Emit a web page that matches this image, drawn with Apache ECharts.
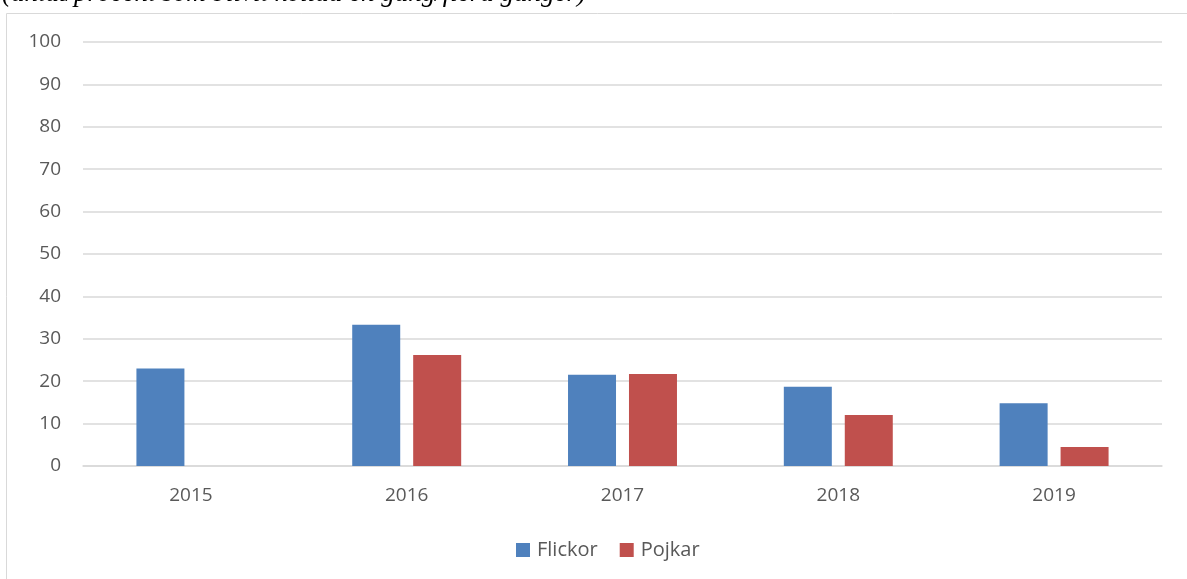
<!DOCTYPE html>
<html>
<head>
<meta charset="utf-8">
<script src="https://cdn.jsdelivr.net/npm/echarts@6/dist/echarts.min.js"></script>
<style>
  html, body { margin: 0; padding: 0; background: #fff; }
  #chart { width: 1187px; height: 579px; }
</style>
</head>
<body>
<div id="chart"></div>
<script>
const years = ['2015', '2016', '2017', '2018', '2019']
const flickor = [23, 33.3, 21.5, 18.7, 14.8]
const pojkar = [null, 26.2, 21.7, 12, 4.5]

const chart = echarts.init(document.getElementById('chart'))
const font = 'Open Sans'

chart.setOption({
    animation: false,
    textStyle: { fontFamily: font },
    graphic: [
        {
            type: 'rect',
            shape: { x: 6.5, y: 13.5, width: 1200, height: 600 },
            style: { fill: 'none', stroke: '#d9d9d9', lineWidth: 1 },
            z: -1,
        },
        {
            // title above the frame, cut off by the top edge
            type: 'text',
            left: 2,
            top: -20,
            style: {
                text: '(antal/procent som blivit kollad en gång/flera gånger)',
                font: 'italic 27px "Liberation Serif"',
                fill: '#000',
            },
        },
    ],
    grid: { left: 83, right: 25, top: 42, bottom: 113 },
    legend: {
        bottom: 14,
        left: 511,
        itemWidth: 14,
        itemHeight: 14,
        itemGap: 22,
        icon: 'rect',
        textStyle: { fontSize: 20, color: '#595959', fontFamily: font, padding: [0, 0, 0, 2] },
        data: ['Flickor', 'Pojkar'],
    },
    xAxis: {
        type: 'category',
        data: years,
        axisLine: { show: true, lineStyle: { color: '#d9d9d9', width: 1.5 } },
        axisTick: { show: false },
        axisLabel: { fontSize: 19, color: '#595959', margin: 20 },
    },
    yAxis: {
        type: 'value',
        min: 0,
        max: 100,
        interval: 10,
        axisLine: { show: false },
        axisTick: { show: false },
        axisLabel: { fontSize: 19, color: '#595959', margin: 22 },
        splitLine: { lineStyle: { color: '#d9d9d9', width: 1.5 } },
    },
    series: [
        {
            name: 'Flickor',
            type: 'bar',
            data: flickor,
            barWidth: 48,
            barGap: '27%',
            itemStyle: { color: '#4f81bd' },
        },
        {
            name: 'Pojkar',
            type: 'bar',
            data: pojkar,
            barWidth: 48,
            itemStyle: { color: '#c0504d' },
        },
    ],
})
</script>
</body>
</html>
